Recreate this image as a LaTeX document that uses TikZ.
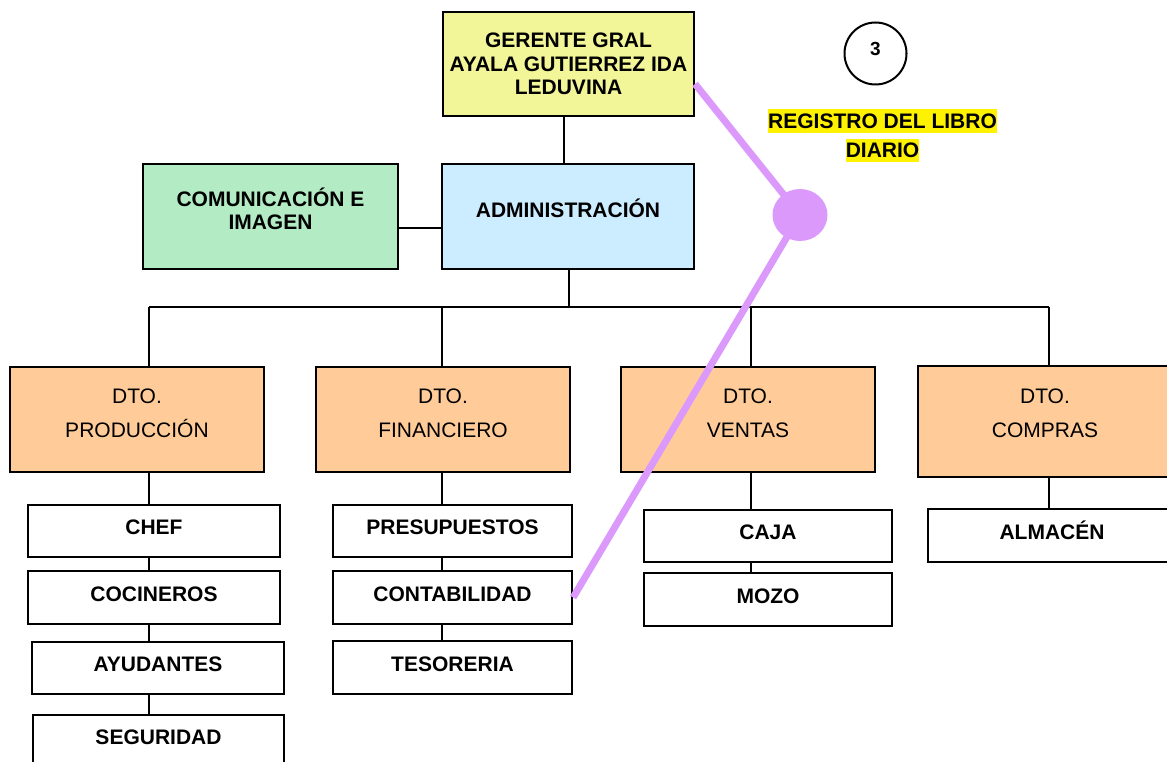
\documentclass[tikz,border=0pt]{standalone}
\usepackage{fontspec}
\setmainfont{Liberation Sans}
\usepackage{xcolor}
\usepackage{tikz}
\usetikzlibrary{calc}
\usetikzlibrary{shapes.geometric}
\definecolor{amarillo}{RGB}{243,246,152}
\definecolor{verde}{RGB}{179,235,197}
\definecolor{celeste}{RGB}{204,236,255}
\definecolor{naranja}{RGB}{255,204,153}
\definecolor{lila}{RGB}{220,153,252}
\newcommand{\resaltar}[1]{{\setlength{\fboxsep}{0pt}\colorbox{yellow}{\rule[-4.5pt]{0pt}{23.5pt}#1}}}

\begin{document}
\begin{tikzpicture}[x=1pt,y=-1pt,
    recuadro/.style={draw,line width=2.2pt,inner sep=0pt,align=center,
        font=\bfseries\fontsize{21}{23.5}\selectfont},
    puesto/.style={recuadro,text height=15pt,text depth=8pt,minimum height=52pt},
    dto/.style={recuadro,fill=naranja,font=\fontsize{21}{34}\selectfont,
        text depth=13pt,minimum width=254pt,minimum height=105pt},
    linea/.style={line width=1.8pt},
    enlace/.style={lila,line width=7pt}]
    \useasboundingbox (0,0) rectangle (1167,762);
    % columnas y barras de los conectores
    \coordinate (colG) at (564,0);
    \coordinate (colA) at (569,0);
    \coordinate (colP) at (149,0);
    \coordinate (colF) at (442,0);
    \coordinate (colV) at (751,0);
    \coordinate (colC) at (1049,0);
    \coordinate (ramal) at (0,228);
    \coordinate (bus) at (0,307);
    % cabecera
    \node[recuadro,fill=amarillo,minimum width=251pt,minimum height=104pt] (ger) at (568.5,64)
        {GERENTE GRAL\\AYALA GUTIERREZ IDA\\LEDUVINA};
    \node[recuadro,fill=celeste,minimum width=252pt,minimum height=105pt,
        text height=15pt,text depth=12pt] (adm) at (568,216.5) {ADMINISTRACIÓN};
    \node[recuadro,fill=verde,minimum width=255pt,minimum height=105pt,
        text depth=15.5pt] (com) at (270.5,216.5) {COMUNICACIÓN E\\IMAGEN};
    % departamentos
    \node[dto] (prod) at (137,419.5) {DTO.\\PRODUCCIÓN};
    \node[dto] (fin) at (443,419.5) {DTO.\\FINANCIERO};
    \node[dto] (ven) at (748,419.5) {DTO.\\VENTAS};
    \node[dto,minimum height=111pt,text depth=16pt] (comp) at (1045,421.5) {DTO.\\COMPRAS};
    % puestos
    \node[puesto,minimum width=252pt] (chef) at (154,531) {CHEF};
    \node[puesto,minimum width=252pt,minimum height=53pt] (coc) at (154,597.5) {COCINEROS};
    \node[puesto,minimum width=252pt] (ayu) at (158,668) {AYUDANTES};
    \node[puesto,minimum width=251pt] (seg) at (158.5,741) {SEGURIDAD};
    \node[puesto,minimum width=239pt] (pres) at (452.5,531) {PRESUPUESTOS};
    \node[puesto,minimum width=239pt,minimum height=53pt] (cont) at (452.5,597.5) {CONTABILIDAD};
    \node[puesto,minimum width=239pt,minimum height=53pt] (teso) at (452.5,667.5) {TESORERIA};
    \node[puesto,minimum width=248pt] (caja) at (768,536) {CAJA};
    \node[puesto,minimum width=248pt,minimum height=53pt] (mozo) at (768,599.5) {MOZO};
    \node[puesto,minimum width=248pt,minimum height=53pt] (alm) at (1052,535.5) {ALMACÉN};
    % conectores
    \draw[linea] (ger.south -| colG) -- (adm.north -| colG);
    \draw[linea] (com.east |- ramal) -- (adm.west |- ramal);
    \draw[linea] (adm.south -| colA) -- (colA |- bus);
    \draw[linea] (colP |- bus) -- (colC |- bus);
    \foreach \d/\c in {prod/colP,fin/colF,ven/colV,comp/colC} {
        \draw[linea] (\c |- bus) -- (\d.north -| \c);
    }
    \foreach \a/\b/\c in {prod/chef/colP,chef/coc/colP,coc/ayu/colP,ayu/seg/colP,
        fin/pres/colF,pres/cont/colF,cont/teso/colF,
        ven/caja/colV,caja/mozo/colV,comp/alm/colC} {
        \draw[linea] (\a.south -| \c) -- (\b.north -| \c);
    }
    % registro del libro diario
    \node[circle,draw,line width=2pt,minimum size=62pt,inner sep=0pt,
        font=\bfseries\fontsize{19}{19}\selectfont,text height=14pt,text depth=10pt] (num) at (875.5,53.5) {3};
    \node[anchor=north,inner sep=0pt,align=center,font=\bfseries\fontsize{21}{29.5}\selectfont] (reg) at (882.5,109)
        {\resaltar{REGISTRO DEL LIBRO}\\\resaltar{DIARIO}};
    \coordinate (centro) at (800,215);
    \draw[enlace] ([yshift=-20pt]ger.east) -- (centro) -- (cont.east);
    \node[ellipse,fill=lila,minimum width=55pt,minimum height=52pt,inner sep=0pt] (punto) at (centro) {};
\end{tikzpicture}
\end{document}
